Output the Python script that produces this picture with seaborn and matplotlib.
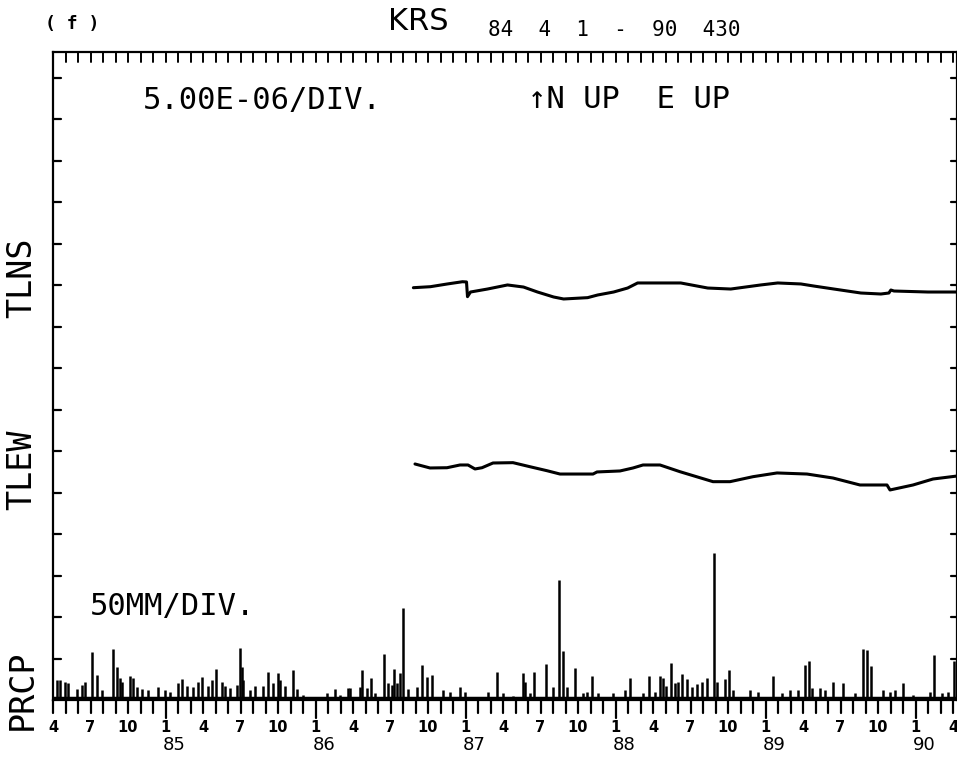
import matplotlib
matplotlib.use("Agg")
import matplotlib.pyplot as plt
import matplotlib.transforms as mtrans
import pandas as pd
import seaborn as sns

# ---------------- data (time = months since 1984-04-01) ----------------
tlns_t = [28.83, 30.19, 31.55, 32.76, 33.08, 33.16, 33.40, 34.76, 36.36, 37.64,
          38.76, 40.05, 40.85, 42.77, 43.57, 44.85, 45.97, 46.77, 48.86, 50.22,
          52.38, 54.22, 56.62, 57.98, 59.83, 60.87, 62.47, 64.63, 66.23, 66.87,
          67.03, 67.28, 70.00, 72.32]
tlns_v = [0.00, 0.12, 0.45, 0.72, 0.69, -1.08, -0.52, -0.16, 0.33, 0.08,
          -0.52, -1.12, -1.36, -1.20, -0.88, -0.52, -0.04, 0.57, 0.57, 0.57,
          -0.04, -0.16, 0.33, 0.57, 0.45, 0.20, -0.16, -0.64, -0.76, -0.64,
          -0.28, -0.40, -0.52, -0.52]          # 1e-6 rad

tlew_t = [28.96, 30.16, 31.52, 32.56, 33.20, 33.76, 34.32, 35.20, 36.80, 38.16,
          39.52, 40.56, 43.20, 43.52, 45.36, 46.40, 47.20, 48.56, 50.16, 52.80,
          54.16, 56.00, 57.92, 60.32, 62.40, 64.56, 66.72, 66.96, 68.80, 70.40,
          72.32]
tlew_v = [0.00, -0.48, -0.45, -0.12, -0.12, -0.60, -0.45, 0.12, 0.16, -0.33,
          -0.81, -1.21, -1.21, -0.96, -0.84, -0.48, -0.12, -0.12, -0.93, -2.13,
          -2.13, -1.53, -1.08, -1.21, -1.69, -2.53, -2.53, -3.13, -2.53, -1.81,
          -1.45]                                # 1e-6 rad

prcp_t = [0.30, 0.56, 0.96, 1.22, 1.90, 2.30, 2.56, 3.10, 3.50, 3.90,
          4.82, 5.10, 5.36, 5.50, 6.16, 6.42, 6.70, 7.10, 7.62, 8.42,
          8.96, 9.36, 10.02, 10.30, 10.70, 11.22, 11.62, 11.90, 12.42, 12.70,
          13.04, 13.50, 13.76, 14.16, 14.70, 14.96, 15.10, 15.22, 15.76, 16.16,
          16.82, 17.22, 17.62, 18.02, 18.16, 18.56, 19.22, 19.50, 20.00, 20.80,
          21.90, 22.56, 22.96, 23.62, 23.76, 24.56, 24.70, 25.10, 25.42, 25.76,
          26.50, 26.82, 27.10, 27.28, 27.50, 27.76, 27.98, 28.42, 29.10, 29.50,
          29.90, 30.30, 31.22, 31.76, 32.56, 32.96, 34.82, 35.50, 36.02, 36.82,
          37.58, 37.76, 38.16, 38.50, 39.44, 40.02, 40.48, 40.82, 41.10, 41.76,
          42.42, 42.70, 43.10, 43.62, 44.82, 45.76, 46.16, 47.22, 47.68, 48.16,
          48.56, 48.82, 49.04, 49.42, 49.76, 50.02, 50.30, 50.70, 51.10, 51.50,
          51.90, 52.30, 52.90, 53.10, 53.76, 54.10, 54.42, 55.76, 56.42, 57.62,
          58.30, 58.96, 59.62, 60.16, 60.50, 60.70, 61.36, 61.76, 62.42, 63.22,
          64.16, 64.82, 65.10, 65.44, 66.42, 66.96, 67.36, 68.02, 68.82, 70.16,
          70.48, 71.10, 71.62, 72.08]
prcp_mm = [24, 24, 22, 20, 13, 18, 22, 58, 30, 12,
           61, 40, 26, 22, 29, 26, 16, 13, 12, 16,
           12, 10, 20, 25, 17, 16, 22, 28, 17, 24,
           37, 22, 17, 14, 18, 63, 40, 24, 12, 17,
           17, 34, 20, 32, 24, 17, 36, 13, 6, 4,
           9, 13, 6, 14, 14, 16, 36, 14, 26, 8,
           55, 20, 18, 37, 20, 32, 111, 13, 16, 42,
           28, 30, 12, 10, 16, 10, 10, 34, 8, 5,
           32, 22, 8, 34, 43, 16, 145, 59, 16, 39,
           8, 10, 29, 8, 8, 12, 27, 8, 29, 10,
           29, 27, 17, 45, 20, 22, 31, 25, 16, 19,
           22, 27, 177, 22, 25, 36, 12, 12, 10, 29,
           8, 12, 12, 42, 47, 15, 14, 12, 22, 20,
           8, 62, 60, 41, 12, 10, 12, 20, 6, 10,
           54, 8, 10, 47]

year_labels = ["85", "86", "87", "88", "89", "90"]

# ---------------- layout ----------------
W, H = 957, 758
TLNS_BASE = 9.935      # divisions
TLEW_BASE = 5.687
TILT_PER_DIV = 5.0     # 1e-6 per division
MM_PER_DIV = 50.0

sns.set_theme(style="white")
plt.rcParams["font.family"] = ["DejaVu Sans"]
plt.rcParams["text.color"] = "black"
MONO = "DejaVu Sans Mono"

fig = plt.figure(figsize=(W / 100, H / 100), dpi=100)
ax = fig.add_axes([53 / W, 1 - 700 / H, 904 / W, 648 / H])

def px(x, y):
    return x / W, 1 - y / H

ns = pd.DataFrame({"t": tlns_t, "y": [TLNS_BASE + v / TILT_PER_DIV for v in tlns_v]})
ew = pd.DataFrame({"t": tlew_t, "y": [TLEW_BASE + v / TILT_PER_DIV for v in tlew_v]})
sns.lineplot(data=ns, x="t", y="y", ax=ax, color="black", lw=2.2, estimator=None, sort=False)
sns.lineplot(data=ew, x="t", y="y", ax=ax, color="black", lw=2.2, estimator=None, sort=False)

pr = pd.DataFrame({"t": prcp_t, "y": [m / MM_PER_DIV for m in prcp_mm]})
ax.vlines(pr["t"], 0, pr["y"], color="black", lw=1.8)
ax.axhline(0.05, color="black", lw=2.5)

ax.set_xlim(0, 72.32)
ax.set_ylim(0, 648 / 41.5)
ax.set_xlabel("")
ax.set_ylabel("")
ax.set_xticks([])
ax.set_yticks([])

for s in ax.spines.values():
    s.set_color("black")
    s.set_linewidth(1.6)

months = list(range(0, 73))
jan = [m for m in months if m % 12 == 9]

trb = mtrans.blended_transform_factory(ax.transData, ax.transAxes)
for m in months:
    L = 18 if m in jan else 13
    ax.plot([m, m], [0, -L / 648], transform=trb, color="black", lw=1.6, clip_on=False)
    ax.plot([m, m], [1, 1 - 10 / 648], transform=trb, color="black", lw=1.4, clip_on=False)

trl = mtrans.blended_transform_factory(ax.transAxes, ax.transData)
for k in range(1, 16):
    ax.plot([0, 8 / 904], [k, k], transform=trl, color="black", lw=1.6, clip_on=False)
    ax.plot([1, 1 - 6 / 904], [k, k], transform=trl, color="black", lw=1.6, clip_on=False)

# month labels
for m in range(0, 73, 3):
    mon = (3 + m) % 12 + 1
    ax.text(m, -20 / 648, str(mon), transform=trb, ha="center", va="top",
            fontsize=10.5, fontweight="bold", family="DejaVu Sans", color="black")
for i, m in enumerate(jan):
    ax.text(m - 0.25, -36 / 648, year_labels[i], transform=trb, ha="left", va="top",
            fontsize=13, family="DejaVu Sans", color="black")

# titles & annotations
fig.text(*px(45, 24), "( f )", ha="left", va="center", fontsize=13, fontweight="bold", family=MONO, color="black")
fig.text(*px(388, 22), "KRS", ha="left", va="center", fontsize=22, family="DejaVu Sans", color="black")
fig.text(*px(488, 30), "84  4  1  -  90  430", ha="left", va="center", fontsize=15, family=MONO, color="black")
fig.text(*px(143, 100), "5.00E-06/DIV.", ha="left", va="center", fontsize=22, family=MONO, color="black")
fig.text(*px(528, 100), "↑N UP  E UP", ha="left", va="center", fontsize=22, family=MONO, color="black")
fig.text(*px(90, 606), "50MM/DIV.", ha="left", va="center", fontsize=22, family=MONO, color="black")

fig.text(*px(22, 278), "TLNS", ha="center", va="center", rotation=90, fontsize=24, family=MONO, color="black")
fig.text(*px(22, 470), "TLEW", ha="center", va="center", rotation=90, fontsize=24, family=MONO, color="black")
fig.text(*px(22, 690), "PRCP", ha="center", va="center", rotation=90, fontsize=24, family=MONO, color="black")

fig.savefig("out.png", dpi=100, facecolor="white")
